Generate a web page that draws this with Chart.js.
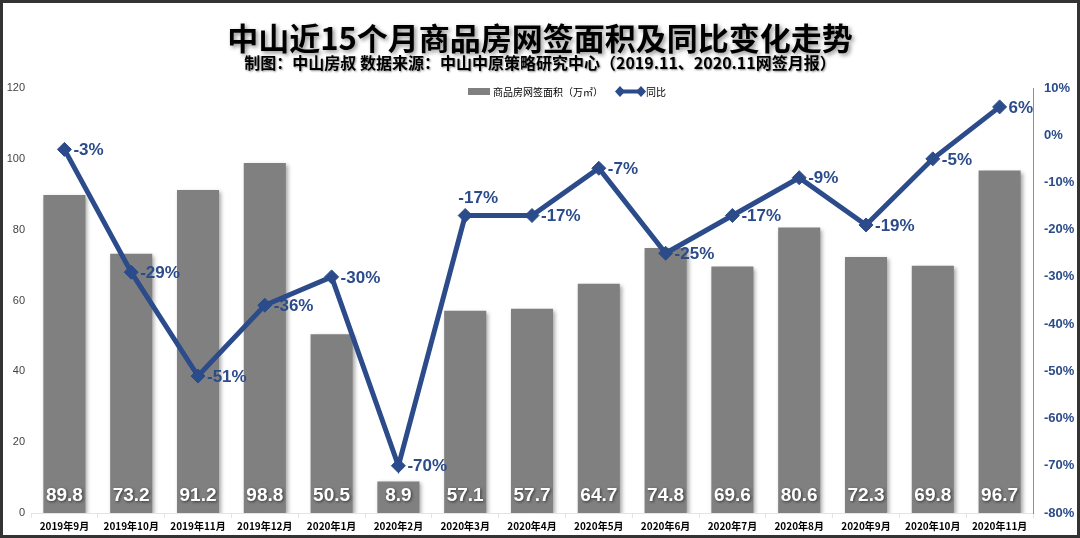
<!DOCTYPE html>
<html>
<head>
<meta charset="utf-8">
<script src="https://cdn.jsdelivr.net/npm/chart.js@4/dist/chart.umd.min.js"></script>
<style>
  html, body { margin: 0; padding: 0; background: #fff; }
  #wrap { width: 1080px; height: 538px; }
</style>
</head>
<body>
<div id="wrap"><canvas id="c"></canvas></div>
<script>
// chart data
const months = ['2019年9月', '2019年10月', '2019年11月', '2019年12月', '2020年1月', '2020年2月', '2020年3月',
    '2020年4月', '2020年5月', '2020年6月', '2020年7月', '2020年8月', '2020年9月', '2020年10月', '2020年11月'];
const areaValues = [89.8, 73.2, 91.2, 98.8, 50.5, 8.9, 57.1, 57.7, 64.7, 74.8, 69.6, 80.6, 72.3, 69.8, 96.7];
const yoyValues = [-3, -29, -51, -36, -30, -70, -17, -17, -7, -25, -17, -9, -19, -5, 6];
const areaLabel = '商品房网签面积（万㎡）';
const yoyLabel = '同比';
const titleText = '中山近15个月商品房网签面积及同比变化走势';
const subtitleText = '制图：中山房叔 数据来源：中山中原策略研究中心（2019.11、2020.11网签月报）';

const BLUE = '#2b4b8a';
const GREY = '#808080';
const FONT = '"Noto Sans CJK SC", "Liberation Sans", sans-serif';

// shadow under the bars
const barShadow = {
    id: 'barShadow',
    beforeDatasetDraw(chart, args) {
        if (args.index !== 0) return;
        const ctx = chart.ctx;
        ctx.save();
        ctx.shadowColor = 'rgba(0,0,0,0.35)';
        ctx.shadowBlur = 4;
        ctx.shadowOffsetX = 2;
        ctx.shadowOffsetY = 2;
    },
    afterDatasetDraw(chart, args) {
        if (args.index !== 0) return;
        chart.ctx.restore();
    }
};

// titles, legend, value labels and frame
const decorations = {
    id: 'decorations',
    afterDraw(chart) {
        const ctx = chart.ctx;
        const W = chart.width, H = chart.height;
        ctx.save();

        // title with soft shadow
        ctx.textAlign = 'center';
        ctx.textBaseline = 'middle';
        ctx.shadowColor = 'rgba(0,0,0,0.45)';
        ctx.shadowBlur = 4;
        ctx.shadowOffsetX = 2;
        ctx.shadowOffsetY = 2;
        ctx.fillStyle = '#000';
        ctx.font = 'bold 31px ' + FONT;
        ctx.fillText(titleText, W / 2, 38);
        ctx.font = 'bold 16px ' + FONT;
        ctx.shadowBlur = 2;
        ctx.shadowOffsetX = 1;
        ctx.shadowOffsetY = 1;
        ctx.fillText(subtitleText, W / 2, 63);
        ctx.shadowColor = 'transparent';

        // legend
        ctx.font = '10px ' + FONT;
        ctx.textAlign = 'left';
        ctx.fillStyle = GREY;
        ctx.fillRect(468, 88, 22, 7);
        ctx.fillStyle = '#000';
        ctx.fillText(areaLabel, 493, 92);
        ctx.strokeStyle = BLUE;
        ctx.lineWidth = 4;
        ctx.beginPath();
        ctx.moveTo(617, 91.5);
        ctx.lineTo(644, 91.5);
        ctx.stroke();
        ctx.fillStyle = BLUE;
        [620, 641].forEach(x => {
            ctx.beginPath();
            ctx.moveTo(x, 86); ctx.lineTo(x + 5, 91.5); ctx.lineTo(x, 97); ctx.lineTo(x - 5, 91.5);
            ctx.closePath();
            ctx.fill();
        });
        ctx.fillStyle = '#000';
        ctx.fillText(yoyLabel, 646, 92);

        // bar value labels
        const barMeta = chart.getDatasetMeta(0);
        const yArea = chart.scales.y;
        ctx.textAlign = 'center';
        ctx.font = 'bold 19px "Liberation Sans", Arial, sans-serif';
        ctx.shadowColor = 'rgba(0,0,0,0.6)';
        ctx.shadowBlur = 3;
        ctx.shadowOffsetX = 1;
        ctx.shadowOffsetY = 1;
        ctx.fillStyle = '#fff';
        barMeta.data.forEach((bar, i) => {
            ctx.fillText(areaValues[i].toFixed(1), bar.x, yArea.bottom - 17);
        });
        ctx.shadowColor = 'transparent';

        // line value labels: right of the point, except where the line rises steeply into it
        const lineMeta = chart.getDatasetMeta(1);
        ctx.font = 'bold 17px "Liberation Sans", Arial, sans-serif';
        ctx.fillStyle = BLUE;
        lineMeta.data.forEach((pt, i) => {
            const prev = yoyValues[i - 1];
            if (prev !== undefined && yoyValues[i] - prev > 40) {
                ctx.textAlign = 'center';
                ctx.fillText(yoyValues[i] + '%', pt.x + 13, pt.y - 17);
            } else {
                ctx.textAlign = 'left';
                ctx.fillText(yoyValues[i] + '%', pt.x + 9, pt.y + 1);
            }
        });

        // outer frame
        ctx.strokeStyle = '#333';
        ctx.lineWidth = 4;
        ctx.strokeRect(1, 1, W - 2, H - 2);
        ctx.restore();
    }
};

new Chart(document.getElementById('c'), {
    data: {
        labels: months,
        datasets: [{
            type: 'bar',
            label: areaLabel,
            data: areaValues,
            backgroundColor: GREY,
            categoryPercentage: 0.63,
            barPercentage: 1,
            yAxisID: 'y',
            order: 2
        }, {
            type: 'line',
            label: yoyLabel,
            data: yoyValues,
            borderColor: BLUE,
            backgroundColor: BLUE,
            borderWidth: 5,
            pointStyle: 'rectRot',
            pointRadius: 7,
            pointBorderWidth: 1,
            tension: 0,
            yAxisID: 'y1',
            order: 1
        }]
    },
    options: {
        responsive: true,
        maintainAspectRatio: false,
        animation: false,
        layout: { padding: { top: 88, left: 0, right: 3, bottom: 4 } },
        plugins: {
            legend: { display: false },
            tooltip: { enabled: false }
        },
        scales: {
            x: {
                grid: { display: true, drawOnChartArea: false, offset: true, color: '#e4e4e4', tickLength: 5 },
                border: { color: '#e4e4e4' },
                ticks: { color: '#000', font: { family: FONT, size: 10, weight: 'bold' }, maxRotation: 0, padding: 2 }
            },
            y: {
                position: 'left',
                min: 0, max: 120,
                afterFit: s => { s.width = 31; },
                ticks: { stepSize: 20, color: '#444', font: { family: '"Liberation Sans", sans-serif', size: 11 }, padding: 6 },
                grid: { display: false, drawTicks: false },
                border: { display: false }
            },
            y1: {
                position: 'right',
                min: -80, max: 10,
                afterFit: s => { s.width = 44; },
                ticks: { stepSize: 10, color: BLUE, font: { family: '"Liberation Sans", sans-serif', size: 13, weight: 'bold' },
                    padding: 11, callback: v => v + '%' },
                grid: { display: false, drawTicks: false },
                border: { display: true, color: '#5b9bd5', width: 1 }
            }
        }
    },
    plugins: [barShadow, decorations]
});
</script>
</body>
</html>
